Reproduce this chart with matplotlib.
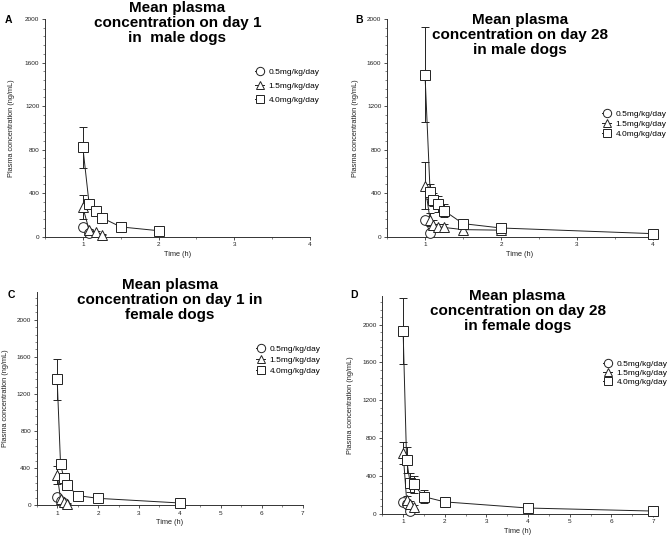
import matplotlib
matplotlib.use("Agg")
import matplotlib.pyplot as plt
from matplotlib.lines import Line2D
from matplotlib.ticker import MultipleLocator

plt.rcParams['font.family'] = ['Liberation Sans', 'DejaVu Sans']

# ---------------- data ----------------
labels = ["0.5mg/kg/day", "1.5mg/kg/day", "4.0mg/kg/day"]

# Panel A: day 1, male
A_t05 = [1, 1.083]
A_m05 = [85, 30]
A_e05 = [8, 5]
A_t15 = [1, 1.083, 1.167, 1.25]
A_m15 = [270, 60, 40, 20]
A_e15 = [110, 10, 8, 5]
A_t40 = [1, 1.083, 1.167, 1.25, 1.5, 2]
A_m40 = [820, 300, 235, 175, 90, 55]
A_e40 = [185, 20, 15, 10, 8, 5]

# Panel B: day 28, male
B_t05 = [1, 1.067]
B_m05 = [155, 35]
B_e05 = [20, 10]
B_t15 = [1, 1.067, 1.1, 1.167, 1.25, 1.5, 2]
B_m15 = [470, 155, 110, 90, 85, 65, 60]
B_e15 = [220, 60, 40, 30, 30, 20, 15]
B_t40 = [1, 1.067, 1.1, 1.167, 1.25, 1.5, 2, 4]
B_m40 = [1490, 415, 340, 300, 240, 120, 80, 28]
B_e40 = [440, 70, 60, 70, 60, 40, 20, 10]

# Panel C: day 1, female
C_t05 = [1, 1.083, 1.167]
C_m05 = [85, 50, 25]
C_e05 = [10, 5, 5]
C_t15 = [1, 1.083, 1.167, 1.25]
C_m15 = [330, 70, 40, 15]
C_e15 = [95, 10, 8, 5]
C_t40 = [1, 1.083, 1.167, 1.25, 1.5, 2, 4]
C_m40 = [1360, 440, 290, 215, 105, 75, 25]
C_e40 = [220, 30, 20, 15, 10, 8, 5]

# Panel D: day 28, female
D_t05 = [1, 1.083, 1.167]
D_m05 = [120, 100, 30]
D_e05 = [15, 20, 10]
D_t15 = [1, 1.083, 1.167, 1.25]
D_m15 = [640, 150, 100, 70]
D_e15 = [115, 40, 30, 20]
D_t40 = [1, 1.083, 1.167, 1.25, 1.5, 2, 4, 7]
D_m40 = [1930, 570, 330, 310, 180, 125, 60, 28]
D_e40 = [350, 140, 100, 90, 70, 55, 35, 10]

titles = [
    "Mean plasma\nconcentration on day 1\nin  male dogs",
    "Mean plasma\nconcentration on day 28\nin male dogs",
    "Mean plasma\nconcentration on day 1 in\nfemale dogs",
    "Mean plasma\nconcentration on day 28\nin female dogs",
]
panel_letters = ["A", "B", "C", "D"]
yticks = [0, 400, 800, 1200, 1600, 2000]

# ---------------- figure ----------------
W, H = 668, 535
fig = plt.figure(figsize=(W / 100, H / 100), dpi=100)

def px_axes(l, t, r, b):
    return fig.add_axes([l / W, 1 - b / H, (r - l) / W, (b - t) / H])

axes_px = [
    (45, 19, 310, 236.7),
    (387, 19, 653, 236.7),
    (36.7, 292, 302.7, 505.3),
    (382.3, 296.3, 653, 513.7),
]
xmax = [4, 4, 7, 7]
ymax = [2000, 2000, 2300, 2300]
ylab_x = [-0.113, -0.105, -0.106, -0.104]
title_pos = [(177.5, 1), (520, 13), (169.7, 278), (517.5, 289)]
letter_pos = [(5, 20), (355.7, 20), (7.3, 295.3), (350.7, 295.3)]
legend_pos = [(255, 68), (602, 110), (256, 345), (603, 360)]
legend_spacing = [0.75, 0.25, 0.4, 0.15]

data = [
    [(A_t05, A_m05, A_e05), (A_t15, A_m15, A_e15), (A_t40, A_m40, A_e40)],
    [(B_t05, B_m05, B_e05), (B_t15, B_m15, B_e15), (B_t40, B_m40, B_e40)],
    [(C_t05, C_m05, C_e05), (C_t15, C_m15, C_e15), (C_t40, C_m40, C_e40)],
    [(D_t05, D_m05, D_e05), (D_t15, D_m15, D_e15), (D_t40, D_m40, D_e40)],
]
markers = ['o', '^', 's']
lc = '#222222'

for i in range(4):
    ax = px_axes(*axes_px[i])
    for (t, m, e), mk in zip(data[i], markers):
        cont = ax.errorbar(t, m, yerr=e, color=lc, lw=0.7, marker=mk, ms=7,
                           mfc='white', mec=lc, mew=0.7, elinewidth=0.7,
                           capsize=3.2, capthick=0.7, zorder=3)
        for art in cont.get_children():
            art.set_clip_on(False)
    ax.set_xlim(0.5, xmax[i])
    ax.set_ylim(0, ymax[i])
    ax.set_xticks(range(1, xmax[i] + 1))
    ax.set_yticks(yticks)
    ax.yaxis.set_minor_locator(MultipleLocator(80))
    ax.xaxis.set_minor_locator(MultipleLocator(0.5))
    for s in ['top', 'right']:
        ax.spines[s].set_visible(False)
    for s in ['left', 'bottom']:
        ax.spines[s].set_linewidth(0.7)
        ax.spines[s].set_color('#333333')
    ax.tick_params(which='major', length=2.5, width=0.6, labelsize=4.6,
                   pad=1.5, colors='#333333', labelcolor='#222222')
    ax.tick_params(which='minor', length=1.3, width=0.5, colors='#555555')
    ax.set_xlabel("Time (h)", fontsize=5.3, labelpad=2.5, color='#222222')
    ax.set_ylabel("Plasma concentration (ng/mL)", fontsize=5.3, color='#222222')
    ax.yaxis.set_label_coords(ylab_x[i], 0.5)

    tx, ty = title_pos[i]
    fig.text(tx / W, 1 - ty / H, titles[i], ha='center', va='top',
             fontsize=11, fontweight='bold', linespacing=1.08)
    lx, ly = letter_pos[i]
    fig.text(lx / W, 1 - ly / H, panel_letters[i], ha='left', va='center',
             fontsize=7.5, fontweight='bold')

    handles = [Line2D([], [], color=lc, lw=0.7, marker=mk, ms=6, mfc='white',
                      mec=lc, mew=0.7) for mk in markers]
    gx, gy = legend_pos[i]
    fig.legend(handles, labels, loc='upper left',
               bbox_to_anchor=(gx / W, 1 - gy / H), frameon=False,
               fontsize=6, handlelength=1.1, handletextpad=0.5,
               labelspacing=legend_spacing[i], borderaxespad=0, borderpad=0)

fig.savefig("out.png", dpi=100)
